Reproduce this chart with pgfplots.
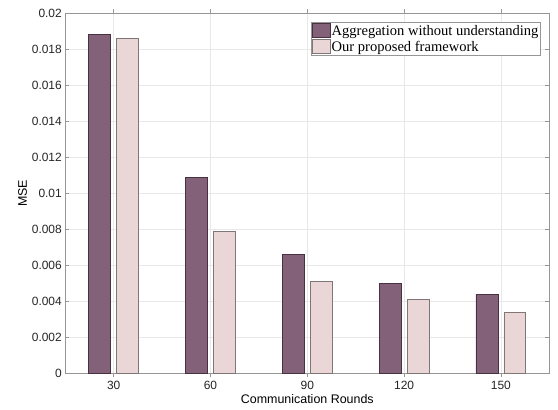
\documentclass[border=0pt]{standalone}
\usepackage{fontspec}
\setmainfont{Liberation Sans}
\newfontfamily\tnr{Liberation Serif}
\usepackage{pgfplots}
\pgfplotsset{compat=1.18}
\definecolor{darkbar}{RGB}{131,98,121}
\definecolor{darkedge}{RGB}{72,50,66}
\definecolor{pinkbar}{RGB}{234,214,215}
\definecolor{pinkedge}{RGB}{128,118,118}
\definecolor{axgray}{RGB}{150,150,150}
\definecolor{gridgray}{RGB}{232,232,232}
\begin{document}
\begin{tikzpicture}
\begin{axis}[
  scale only axis, width=484bp, height=360bp,
  xmin=15, xmax=165, ymin=0, ymax=0.02,
  xtick={30,60,90,120,150},
  ytick={0,0.002,0.004,0.006,0.008,0.01,0.012,0.014,0.016,0.018,0.02},
  scaled y ticks=false,
  yticklabel style={/pgf/number format/fixed,/pgf/number format/precision=3},
  /pgf/number format/assume math mode=true,
  tick label style={font=\fontsize{12}{12}\selectfont, text=black!85},
  label style={font=\fontsize{12.5}{13}\selectfont},
  axis line style={axgray}, tick style={axgray, line width=0.5bp},
  major tick length=4bp, tick align=inside, tick pos=both,
  grid=major, major grid style={gridgray, line width=0.5bp},
  ylabel={MSE}, xlabel={Communication Rounds},
  ylabel style={yshift=-2bp},
  xlabel style={yshift=2bp},
  ybar, bar width=6.8,
  legend style={at={(1,1)}, anchor=north east, xshift=-8.6bp, yshift=-9bp,
    draw=axgray, inner sep=1bp, row sep=1bp,
    font=\tnr\fontsize{14.6}{15}\selectfont, cells={anchor=west},
    nodes={inner sep=1bp}},
  legend image code/.code={\draw[#1] (0bp,-7bp) rectangle (18bp,7bp);},
]
\addplot[fill=darkbar, draw=darkedge, line width=0.8bp, bar shift=-4.33]
  coordinates {(30,0.0188) (60,0.0109) (90,0.0066) (120,0.0050) (150,0.0044)};
\addlegendentry{Aggregation without understanding}
\addplot[fill=pinkbar, draw=pinkedge, line width=0.8bp, bar shift=4.33]
  coordinates {(30,0.0186) (60,0.0079) (90,0.0051) (120,0.0041) (150,0.0034)};
\addlegendentry{Our proposed framework}
\end{axis}
\pgfresetboundingbox
\path (current axis.south west) ++(-65.3bp,-36.7bp) rectangle ++(558bp,410bp);
\end{tikzpicture}
\end{document}
